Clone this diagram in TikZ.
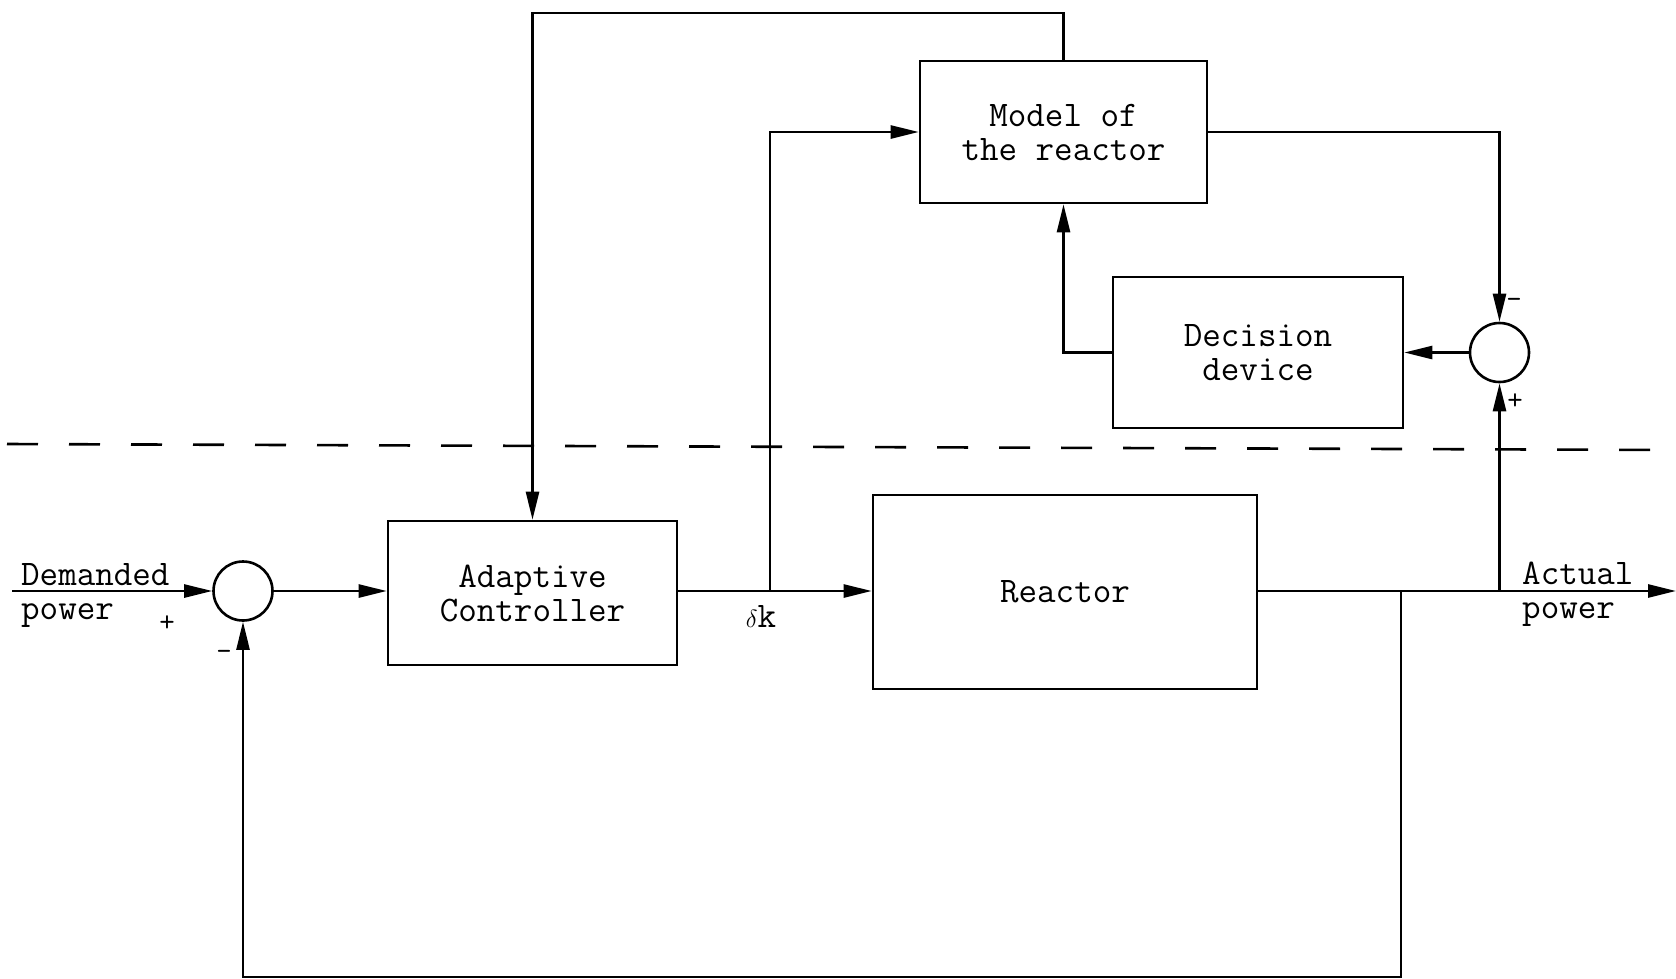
\documentclass[tikz,border=0pt]{standalone}
\usepackage{fontspec}
\usetikzlibrary{arrows.meta, positioning}

\begin{document}
\begin{tikzpicture}[
    x=1pt, y=-1pt,
    every node/.style={font=\fontsize{36}{34}\selectfont\ttfamily},
    block/.style={draw, rectangle, line width=2.6pt, align=center, inner sep=0pt},
    sumpt/.style={draw, circle, line width=2.6pt, minimum size=59pt, inner sep=0pt},
    sig/.style={line width=2.6pt, -{Triangle[length=28pt,width=13pt]}},
    lbl/.style={inner sep=0pt},
    sgn/.style={inner sep=0pt, font=\fontsize{30}{30}\selectfont\ttfamily},
  ]
  \useasboundingbox (0,0) rectangle (1676,978);

  \node[sumpt] (sumL) at (243,591) {};
  \node[block, minimum width=289pt, minimum height=144pt] (ctrl) at (532.5,593) {Adaptive\\Controller};
  \node[block, minimum width=384pt, minimum height=194pt] (reac) at (1065,592) {Reactor};
  \node[block, minimum width=287pt, minimum height=142pt] (model) at (1063.5,132) {Model of\\the reactor};
  \node[block, minimum width=290pt, minimum height=151pt] (decide) at (1258,352.5) {Decision\\device};
  \node[sumpt] (sumR) at (1499.5,352.5) {};

  \coordinate (din) at (12,591);
  \coordinate (dk) at (770,591);
  \coordinate (fb) at (1401,591);
  \coordinate (ap) at (1499.5,591);
  \coordinate (pout) at (1676,591);
  \coordinate (top) at (532.5,13);
  \coordinate (bot) at (1401,977);

  \draw[sig] (din) -- (sumL.west);
  \draw[sig] (sumL.east) -- (sumL.east -| ctrl.west);
  \draw[sig] (ctrl.east |- dk) -- (dk -| reac.west);
  \draw[sig] (reac.east |- fb) -- (pout);
  \draw[sig] (dk) |- (model.west);
  \draw[sig] (model.north) -- (model.north |- top) -| (ctrl.north);
  \draw[sig] (model.east) -| (sumR.north);
  \draw[sig] (sumR.west) -- (decide.east);
  \draw[sig] (decide.west) -| (model.south);
  \draw[sig] (ap) -- (sumR.south);
  \draw[sig] (fb) -- (bot) -| (sumL.south);

  % boundary between plant and adaptation loop
  \draw[line width=2.6pt, dash pattern=on 31pt off 31pt] (7,444) -- (1676,450);

  \node[lbl, anchor=base west] (dem) at (21,585) {Demanded};
  \node[lbl, anchor=base west] (demp) at (21,619) {power};
  \node[lbl, anchor=base west] (act) at (1522,584) {Actual};
  \node[lbl, anchor=base west] (actp) at (1522,618) {power};
  \node[lbl] (dklbl) at (761,616) {$\delta$k};
  \node[sgn] (pL) at (167,624) {+};
  \node[sgn] (mL) at (224,655) {-};
  \node[sgn] (mR) at (1514,303) {-};
  \node[sgn] (pR) at (1515,402) {+};
\end{tikzpicture}
\end{document}
